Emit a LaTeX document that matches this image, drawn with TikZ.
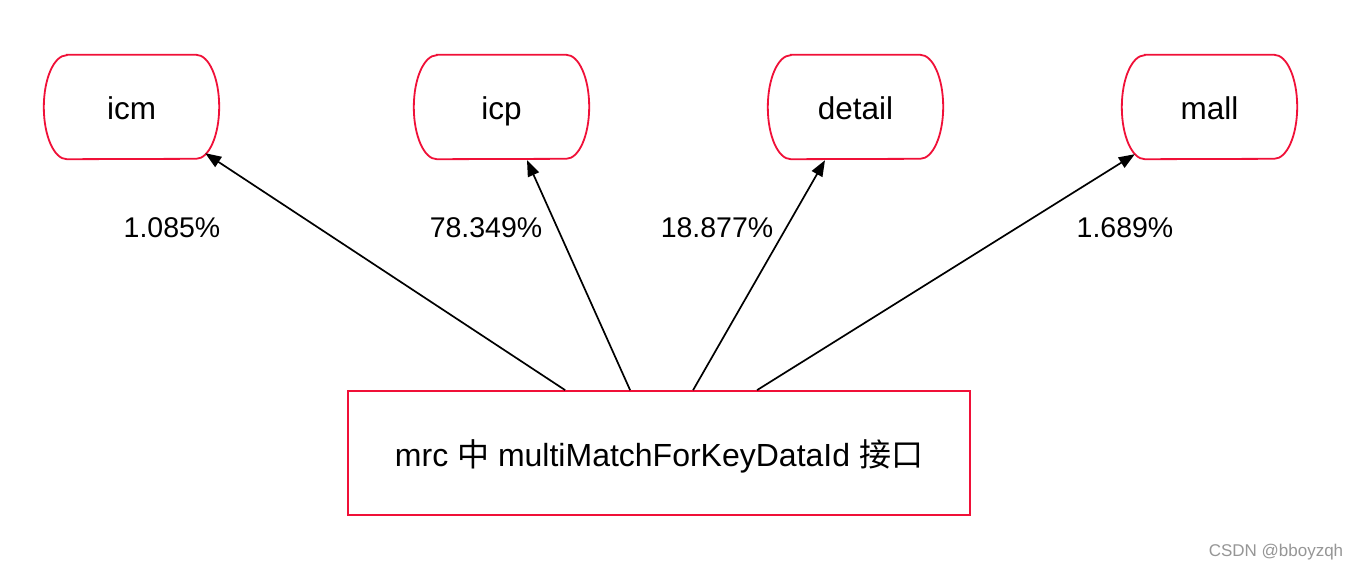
\documentclass[tikz,border=0pt]{standalone}
\usepackage{fontspec}
\setmainfont{Liberation Sans}
\newfontfamily\cjk{Noto Sans CJK SC}
\usetikzlibrary{arrows.meta}
\definecolor{boxred}{RGB}{240,16,56}
\definecolor{wmgray}{RGB}{150,150,150}
\tikzset{
  capsule/.style={minimum width=175pt, minimum height=104pt, inner sep=0pt, font=\fontsize{31.5}{36}\selectfont, text height=25pt, text depth=0pt},
  mainbox/.style={draw=boxred, line width=1.8pt, minimum width=622pt, minimum height=124pt, inner sep=0pt, font=\fontsize{32}{36}\selectfont, text height=27pt, text depth=0pt},
  pct/.style={font=\fontsize{28.5}{32}\selectfont, inner sep=0pt},
  conn/.style={line width=1.7pt, -{Triangle[length=16pt,width=12pt]}},
  capline/.style={draw=boxred, line width=1.8pt}
}
\newcommand\capsh[1]{%
  \draw[capline] ([xshift=23pt]#1.north west) -- ([xshift=-23pt]#1.north east)
    arc[start angle=90, end angle=-90, x radius=23pt, y radius=52pt]
    -- ([xshift=23pt]#1.south west)
    arc[start angle=270, end angle=90, x radius=23pt, y radius=52pt] -- cycle;}
\begin{document}
\begin{tikzpicture}[x=1pt,y=-1pt]
\useasboundingbox[fill=white] (0,0) rectangle (1362,572);
\node[capsule] (icm) at (131.5,107) {icm};
\node[capsule] (icp) at (501.5,107) {icp};
\node[capsule] (detail) at (855.5,107) {detail};
\node[capsule] (mall) at (1209.5,107) {mall};
\capsh{icm}\capsh{icp}\capsh{detail}\capsh{mall}
\node[mainbox] (mrc) at (659,453) {mrc {\cjk 中} multiMatchForKeyDataId {\cjk 接口}};
\node[pct] (l1) at (172,228) {1.085\%};
\node[pct] (l2) at (486,228) {78.349\%};
\node[pct] (l3) at (717,228) {18.877\%};
\node[pct] (l4) at (1125,228) {1.689\%};
\draw[conn] ([xshift=218pt]mrc.north west) -- ([xshift=-14pt,yshift=6pt]icm.south east);
\draw[conn] ([xshift=283pt]mrc.north west) -- ([xshift=25.5pt,yshift=-1pt]icp.south);
\draw[conn] ([xshift=346pt]mrc.north west) -- ([xshift=-30.5pt,yshift=-1pt]detail.south);
\draw[conn] ([xshift=410pt]mrc.north west) -- ([xshift=13pt,yshift=5pt]mall.south west);
\node[text=wmgray, font=\fontsize{17}{20}\selectfont, inner sep=0pt] (wm) at (1276,552) {CSDN @bboyzqh};
\end{tikzpicture}
\end{document}
